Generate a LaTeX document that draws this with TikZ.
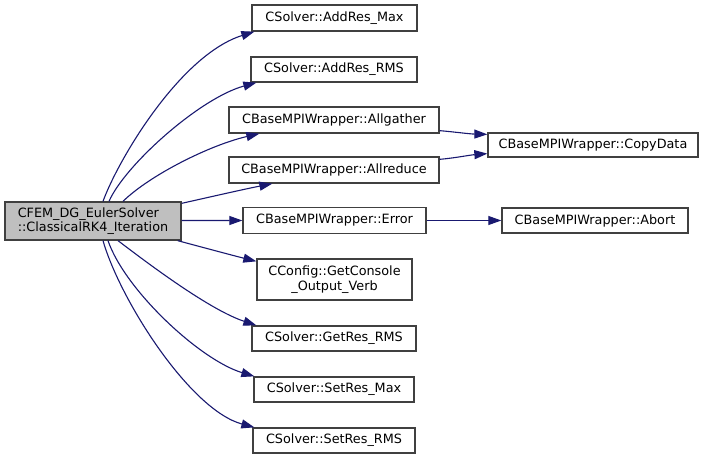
\documentclass[tikz,border=0pt]{standalone}
\usepackage{fontspec}
\setmainfont{DejaVu Sans}
\usetikzlibrary{arrows.meta}
\definecolor{edgeblue}{HTML}{191970}
\definecolor{boxline}{HTML}{404040}
\definecolor{mainfill}{HTML}{BFBFBF}
\begin{document}
\begin{tikzpicture}[x=1bp,y=-1bp,
  fn/.style={draw=boxline,line width=1.3bp,fill=white,inner sep=0pt,
    font=\fontsize{12.8bp}{14.3bp}\selectfont,anchor=center},
  call/.style={draw=edgeblue,line width=1.1bp,-{Triangle[length=13bp,width=9bp]}}]
\useasboundingbox (0,0) rectangle (708,459);
\node[fn,fill=mainfill,minimum width=176bp,minimum height=38bp,align=left] (main) at (93,221) {CFEM\_DG\_EulerSolver\\::ClassicalRK4\_Iteration};
\node[fn,minimum width=165bp,minimum height=26bp] (addmax) at (334.5,18) {CSolver::AddRes\_Max};
\node[fn,minimum width=166bp,minimum height=25bp] (addrms) at (334,69.5) {CSolver::AddRes\_RMS};
\node[fn,minimum width=210bp,minimum height=26bp] (allgather) at (334,120) {CBaseMPIWrapper::Allgather};
\node[fn,minimum width=210bp,minimum height=26bp] (allreduce) at (334,170) {CBaseMPIWrapper::Allreduce};
\node[fn,minimum width=210bp,minimum height=24bp] (copydata) at (593,145) {CBaseMPIWrapper::CopyData};
\node[fn,minimum width=183bp,minimum height=26bp] (error) at (334.5,220.5) {CBaseMPIWrapper::Error};
\node[fn,minimum width=186bp,minimum height=25bp] (abort) at (595,220.5) {CBaseMPIWrapper::Abort};
\node[fn,minimum width=155bp,minimum height=41bp,align=center] (getconsole) at (334.5,279.5) {CConfig::GetConsole\\\_Output\_Verb};
\node[fn,minimum width=164bp,minimum height=25bp] (getres) at (334,338.5) {CSolver::GetRes\_RMS};
\node[fn,minimum width=160bp,minimum height=25bp] (setmax) at (334,389.5) {CSolver::SetRes\_Max};
\node[fn,minimum width=162bp,minimum height=25bp] (setrms) at (334,440.5) {CSolver::SetRes\_RMS};

\draw[call] ([xshift=10bp]main.north) .. controls (118,160) and (180,55) .. ([xshift=3bp]addmax.south west);
\draw[call] ([xshift=16bp]main.north) .. controls (125,165) and (200,98) .. ([xshift=6bp]addrms.south west);
\draw[call] ([xshift=30bp]main.north) .. controls (150,175) and (210,145) .. ([xshift=31bp]allgather.south west);
\draw[call] ([yshift=-2bp]main.north east) .. controls (210,197) and (245,189) .. ([xshift=44bp]allreduce.south west);
\draw[call] ([yshift=0.5bp]main.east) -- (error.west);
\draw[call] ([xshift=-4bp]main.south east) .. controls (205,248) and (235,256) .. ([yshift=-3bp]getconsole.north west);
\draw[call] ([xshift=25bp]main.south) .. controls (150,265) and (210,310) .. ([xshift=5bp]getres.north west);
\draw[call] ([xshift=15bp]main.south) .. controls (125,290) and (200,360) .. ([xshift=1bp]setmax.north west);
\draw[call] ([xshift=10bp]main.south) .. controls (120,300) and (190,410) .. ([xshift=2bp]setrms.north west);
\draw[call] ([yshift=3bp]allgather.south east) .. controls (455,132) and (470,134) .. ([yshift=-2bp]copydata.north west);
\draw[call] ([yshift=-3bp]allreduce.north east) .. controls (455,158) and (470,155) .. ([yshift=4bp]copydata.south west);
\draw[call] (error.east) -- (abort.west);
\end{tikzpicture}
\end{document}
